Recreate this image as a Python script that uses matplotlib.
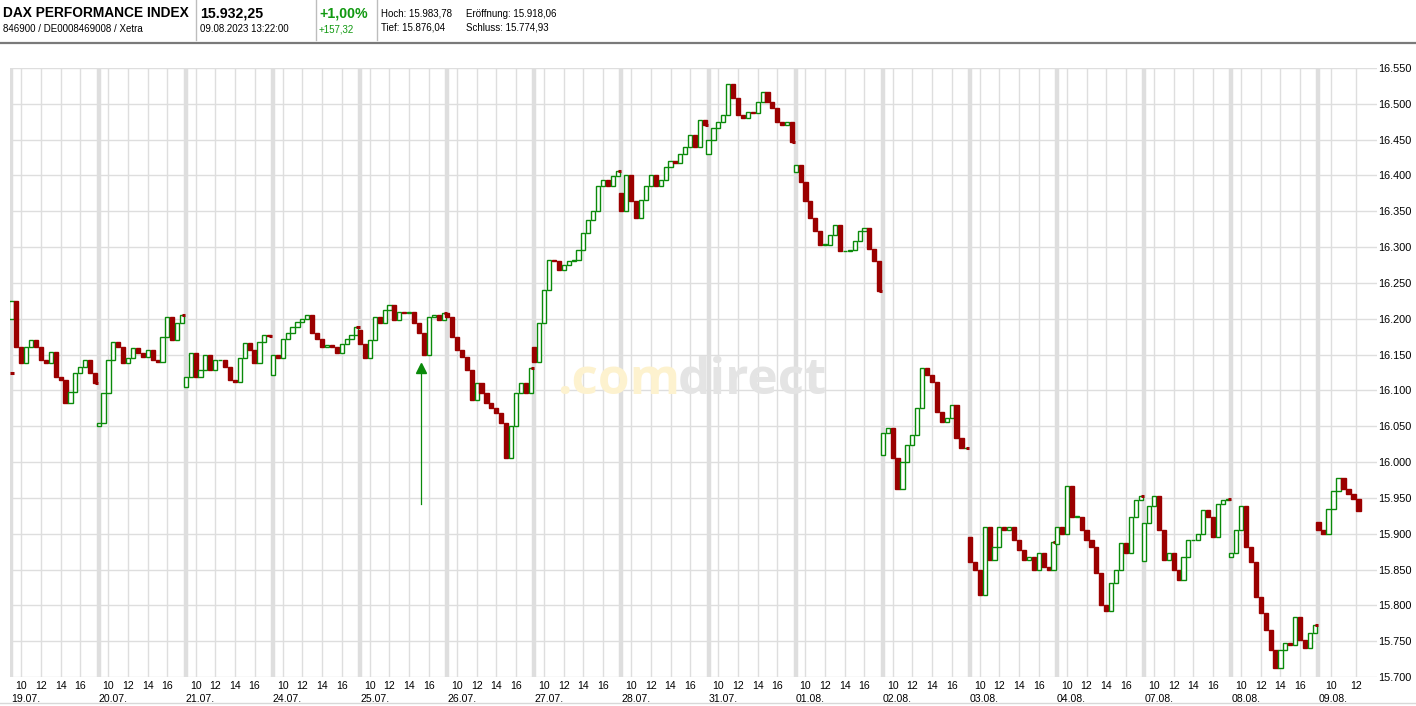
import matplotlib
matplotlib.use("Agg")
import matplotlib.pyplot as plt
from matplotlib.patches import Rectangle
from matplotlib.lines import Line2D

plt.rcParams["font.family"] = ["Liberation Sans", "DejaVu Sans"]

RED = "#9b0000"
GREEN = "#0a8a0a"
GRID = "#dedede"

# --- data (30-minute closes, 09:00 ... 17:30 per trading day) ---
day_labels = ["19.07.", "20.07.", "21.07.", "24.07.", "25.07.", "26.07.", "27.07.", "28.07.",
              "31.07.", "01.08.", "02.08.", "03.08.", "04.08.", "07.08.", "08.08.", "09.08."]
prev_close = 16125
day_opens = [16200, 16050, 16105, 16122, 16185, 16208, 16160, 16375,
             16430, 16405, 16010, 15895, 15885, 15862, 15868, 15916]

c_1907 = [16225, 16161, 16138, 16161, 16170, 16161, 16142, 16138, 16154, 16119, 16115, 16082, 16098, 16124, 16133, 16142, 16124, 16110]
c_2007 = [16054, 16096, 16142, 16168, 16161, 16138, 16145, 16159, 16152, 16147, 16156, 16142, 16140, 16175, 16203, 16170, 16194, 16205]
c_2107 = [16119, 16152, 16119, 16128, 16150, 16128, 16142, 16142, 16133, 16115, 16112, 16145, 16166, 16156, 16138, 16168, 16177, 16176]
c_2407 = [16150, 16145, 16172, 16180, 16188, 16196, 16200, 16205, 16180, 16172, 16160, 16163, 16160, 16152, 16165, 16172, 16177, 16189]
c_2507 = [16165, 16145, 16170, 16203, 16194, 16212, 16219, 16198, 16210, 16208, 16210, 16194, 16180, 16150, 16203, 16205, 16198, 16208]
c_2607 = [16203, 16175, 16157, 16147, 16129, 16087, 16110, 16096, 16082, 16075, 16068, 16054, 16005, 16050, 16096, 16110, 16096, 16131]
c_2707 = [16140, 16194, 16240, 16282, 16280, 16268, 16275, 16280, 16282, 16296, 16320, 16338, 16350, 16385, 16394, 16385, 16399, 16406]
c_2807 = [16350, 16400, 16365, 16340, 16366, 16385, 16400, 16385, 16394, 16412, 16420, 16418, 16430, 16440, 16457, 16440, 16478, 16471]
c_3107 = [16450, 16466, 16475, 16485, 16527, 16508, 16485, 16480, 16489, 16487, 16503, 16517, 16503, 16494, 16475, 16471, 16475, 16447]
c_0108 = [16415, 16391, 16364, 16340, 16322, 16303, 16303, 16317, 16331, 16294, 16294, 16296, 16308, 16322, 16326, 16298, 16280, 16239]
c_0208 = [16040, 16047, 16005, 15962, 16000, 16024, 16038, 16075, 16131, 16122, 16112, 16070, 16056, 16061, 16080, 16033, 16019, 16019]
c_0308 = [15860, 15849, 15815, 15910, 15863, 15882, 15910, 15905, 15910, 15891, 15877, 15863, 15868, 15849, 15873, 15854, 15849, 15889]
c_0408 = [15910, 15900, 15966, 15924, 15924, 15905, 15891, 15882, 15845, 15800, 15792, 15831, 15849, 15887, 15873, 15924, 15947, 15952]
c_0708 = [15915, 15938, 15952, 15905, 15863, 15873, 15849, 15835, 15868, 15891, 15891, 15900, 15933, 15924, 15896, 15942, 15947, 15949]
c_0808 = [15873, 15905, 15938, 15882, 15860, 15812, 15790, 15765, 15738, 15712, 15738, 15747, 15745, 15784, 15751, 15740, 15761, 15772]
c_0908 = [15905, 15900, 15935, 15960, 15978, 15962, 15956, 15948, 15932]

day_closes = [c_1907, c_2007, c_2107, c_2407, c_2507, c_2607, c_2707, c_2807,
              c_3107, c_0108, c_0208, c_0308, c_0408, c_0708, c_0808, c_0908]

hour_ticks = [10, 12, 14, 16]
last_day_ticks = [10, 12]
y_ticks = list(range(15700, 16551, 50))

signal_day, signal_hour = 4, 15.2
signal_value, signal_base = 16137, 15942

DAY_W = 8.863          # axis width of one trading day, in hours
LAST_SCALE = 1.27      # the running day is drawn wider


def pos(day, hour):
    scale = LAST_SCALE if day == len(day_labels) - 1 else 1.0
    return day * DAY_W + (hour - 9.0) * scale


fig = plt.figure(figsize=(14.16, 7.06), dpi=100)
W, H = 1416, 706
ax = fig.add_axes([10 / W, (H - 677) / H, 1367 / W, 609 / H])
ax.set_xlim(-0.15, 138.9)
ax.set_ylim(15700, 16550)

# grid
for v in y_ticks:
    ax.axhline(v, color=GRID, lw=1.0, zorder=0)
major_pos, major_lab, minor_pos = [], [], []
for d in range(len(day_labels)):
    ax.axvline(pos(d, 9.0), color=GRID, lw=3.2, zorder=0)
    minor_pos.append(pos(d, 9.0))
    ticks = last_day_ticks if d == len(day_labels) - 1 else hour_ticks
    for h in ticks:
        ax.axvline(pos(d, h), color=GRID, lw=1.0, zorder=0)
        major_pos.append(pos(d, h))
        major_lab.append(str(h))

# candles
bw = 0.42
ax.plot([-0.15, 0.25], [prev_close, prev_close], color=RED, lw=2.2, zorder=3, solid_capstyle="butt")
for d, closes in enumerate(day_closes):
    step = 0.5 if d < len(day_labels) - 1 else 0.4
    o = day_opens[d]
    for k, c in enumerate(closes):
        x = pos(d, 9.0 + k * step)
        w = bw * (LAST_SCALE * 0.8 if d == len(day_labels) - 1 else 1.0)
        lo, hi = min(o, c), max(o, c)
        if c >= o:
            ax.add_patch(Rectangle((x - w / 2, lo), w, max(hi - lo, 0.8), facecolor="white",
                                   edgecolor=GREEN, lw=1.0, zorder=3))
        else:
            ax.add_patch(Rectangle((x - w / 2, lo), w, hi - lo, facecolor=RED,
                                   edgecolor=RED, lw=1.0, zorder=3))
        o = c
    if d < len(day_labels) - 1:
        x_end = pos(d, 9.0 + (len(closes) - 1) * step)
        ax.plot([x_end, pos(d + 1, 9.0) - 0.05], [closes[-1], closes[-1]], color=RED, lw=2.2,
                zorder=3, solid_capstyle="butt")

# signal marker
sx = pos(signal_day, signal_hour)
ax.plot([sx, sx], [signal_base, signal_value - 8], color=GREEN, lw=0.9, zorder=4)
ax.plot([sx], [signal_value - 6], marker="^", color=GREEN, markersize=7, zorder=4)

# watermark
fig.text(680 / W, 1 - 394 / H, ".com", color="#fdf2cf", fontsize=37, fontweight="bold",
         ha="right", va="baseline", family="Open Sans", zorder=0)
fig.text(678 / W, 1 - 394 / H, "direct", color="#e4e4e4", fontsize=37, fontweight="bold",
         ha="left", va="baseline", family="Open Sans", zorder=0)
ax.set_facecolor("none")

# axes ticks
ax.yaxis.tick_right()
ax.set_yticks(y_ticks)
ax.set_yticklabels([f"{v:,}".replace(",", ".") for v in y_ticks], fontsize=7.8)
ax.tick_params(axis="y", length=0, pad=1)
ax.set_xticks(major_pos)
ax.set_xticklabels(major_lab, fontsize=7.6)
ax.set_xticks(minor_pos, minor=True)
ax.set_xticklabels(day_labels, minor=True, fontsize=7.6)
for lab in ax.get_xticklabels(minor=True):
    lab.set_horizontalalignment("left")
ax.tick_params(axis="x", which="major", length=0, pad=3)
ax.tick_params(axis="x", which="minor", length=0, pad=12)
for s in ax.spines.values():
    s.set_visible(False)

# header
fig.add_artist(Line2D([0, 1], [1 - 42.5 / H] * 2, color="#7a7a7a", lw=1.6))
for xs in (196, 316, 377):
    fig.add_artist(Line2D([xs / W] * 2, [1 - 40 / H, 1], color="#bdbdbd", lw=1))
fig.add_artist(Line2D([0, 1], [1 - 703 / H] * 2, color="#d8d8d8", lw=1))
fig.text(3 / W, 1 - 13 / H, "DAX PERFORMANCE INDEX", fontsize=9.9, fontweight="bold", va="center")
fig.text(3 / W, 1 - 29 / H, "846900 / DE0008469008 / Xetra", fontsize=7.0, va="center")
fig.text(200 / W, 1 - 13 / H, "15.932,25", fontsize=10.2, fontweight="bold", va="center")
fig.text(200 / W, 1 - 29 / H, "09.08.2023 13:22:00", fontsize=7.0, va="center")
fig.text(319 / W, 1 - 13 / H, "+1,00%", fontsize=10.2, fontweight="bold", va="center", color="#119911")
fig.text(319 / W, 1 - 29 / H, "+157,32", fontsize=7.0, va="center", color="#119911")
fig.text(381 / W, 1 - 14 / H, "Hoch: 15.983,78", fontsize=7.0, va="center")
fig.text(466 / W, 1 - 14 / H, "Eröffnung: 15.918,06", fontsize=7.0, va="center")
fig.text(381 / W, 1 - 28 / H, "Tief: 15.876,04", fontsize=7.0, va="center")
fig.text(466 / W, 1 - 28 / H, "Schluss: 15.774,93", fontsize=7.0, va="center")

fig.savefig("out.png", dpi=100)
